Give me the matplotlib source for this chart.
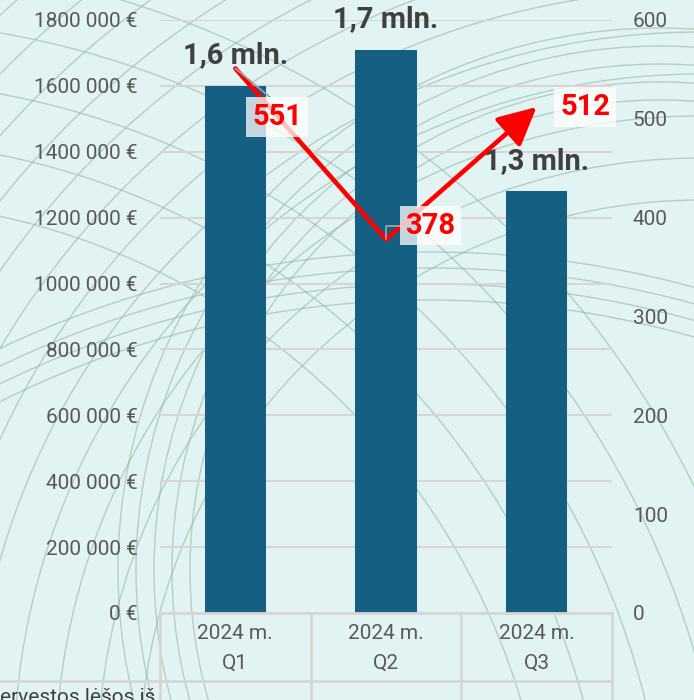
import numpy as np
import matplotlib
matplotlib.use('Agg')
import matplotlib.pyplot as plt
import matplotlib.transforms as mtransforms
from matplotlib import font_manager
from matplotlib.patches import Circle

####################################
#               Data               #
####################################

quarters = ['2024 m.\nQ1', '2024 m.\nQ2', '2024 m.\nQ3']
amounts = [1600000, 1710000, 1280000]
amount_labels = ['1,6 mln.', '1,7 mln.', '1,3 mln.']
counts = [551, 378, 512]
row_label = 'ervestos lėšos iš'

left_ticks = np.arange(0, 1800001, 200000)
right_ticks = np.arange(0, 601, 100)

####################################
#              Styling             #
####################################

W, H = 694, 700
bg_color = '#e1f4f3'
bar_color = '#155f82'
tick_color = '#595959'
grid_color = '#dcd4d4'
table_color = '#d6d6d6'

installed = {f.name for f in font_manager.fontManager.ttflist}
font = 'Roboto' if 'Roboto' in installed else 'DejaVu Sans'


def euro(v):
    if v == 0:
        return '0 €'
    return '{} 000 €'.format(v // 1000)


fig = plt.figure(figsize=(W / 100, H / 100), dpi=100, facecolor=bg_color)

# decorative arcs in the background
bg = fig.add_axes([0, 0, 1, 1], zorder=0)
bg.set_xlim(0, W)
bg.set_ylim(H, 0)
bg.axis('off')
arc_sets = [((700, 760), np.arange(560, 1060, 42)),
            ((660, 570), np.arange(470, 560, 18)),
            ((430, 1260), np.arange(960, 1010, 16)),
            ((-150, 900), np.arange(700, 1000, 60))]
for (cx, cy), radii in arc_sets:
    for r in radii:
        bg.add_patch(Circle((cx, cy), r, fill=False, ec='#97b5a6', lw=1, alpha=0.6))

ax = fig.add_axes([160 / W, 87 / H, 452 / W, 593 / H], zorder=1)
ax.patch.set_alpha(0)
x = np.arange(len(quarters))

ax.bar(x, amounts, width=0.405, color=bar_color, zorder=3)
ax.set_xlim(-0.5, 2.5)
ax.set_ylim(0, 1800000)
ax.set_yticks(left_ticks)
ax.set_yticklabels([euro(v) for v in left_ticks])
ax.set_xticks(x)
ax.set_xticklabels(quarters)
for lab in ax.get_xticklabels():
    lab.set_linespacing(1.7)
ax.grid(axis='y', color=grid_color, lw=1.5, zorder=1)
ax.set_axisbelow(True)
for s in ax.spines.values():
    s.set_visible(False)
ax.tick_params(axis='y', length=0, pad=16, labelsize=15, labelcolor=tick_color)
ax.tick_params(axis='x', length=0, pad=8, labelsize=15, labelcolor=tick_color)
for lab in ax.get_xticklabels() + ax.get_yticklabels():
    lab.set_family(font)

for xi, v, lab in zip(x, amounts, amount_labels):
    ax.annotate(lab, (xi, v), xytext=(0, 22), textcoords='offset points',
                ha='center', va='center', fontsize=21, fontweight='bold',
                color='#404040', family=font, zorder=6)

# table lines under the bars
tr = mtransforms.blended_transform_factory(ax.transData, ax.transAxes)
bottom = -87 / 593
for xb in np.arange(-0.5, len(quarters), 1.0):
    ax.plot([xb, xb], [0, bottom], transform=tr, color=table_color, lw=2, clip_on=False)
ax.plot([-0.5, 2.5], [0, 0], transform=tr, color=table_color, lw=2, clip_on=False, zorder=4)
row_y = 1 - 681 / H
fig.add_artist(plt.Line2D([0, 612 / W], [row_y, row_y], color=table_color, lw=2))
fig.text(0.0, -0.004, row_label, fontsize=15, color='#404040', family=font,
         ha='left', va='baseline')

# right axis with the counts
ax2 = ax.twinx()
ax2.set_ylim(0, 600)
ax2.set_yticks(right_ticks)
for s in ax2.spines.values():
    s.set_visible(False)
ax2.tick_params(axis='y', length=0, pad=15, labelsize=15, labelcolor=tick_color)
for lab in ax2.get_yticklabels():
    lab.set_family(font)

ax2.plot(x[:2], counts[:2], color='red', lw=3.3, solid_capstyle='round', zorder=5)
ax2.annotate('', xy=(x[2], counts[2]), xytext=(x[1], counts[1]),
             arrowprops=dict(arrowstyle='-|>,head_length=0.9,head_width=0.45',
                             color='red', lw=3.3, shrinkA=0, shrinkB=0,
                             mutation_scale=26))

# value labels, two of them with grey leader lines like the original
offsets = [(30, -35), (32, 10), (35, 0)]
leaders = [dict(arrowstyle='-', color='#a0a0a0', lw=1.3, shrinkA=0, shrinkB=0,
                relpos=(0.5, 1.0)),
           dict(arrowstyle='-', color='#a0a0a0', lw=1.3, shrinkA=0, shrinkB=0,
                relpos=(0.0, 0.5), connectionstyle='angle,angleA=0,angleB=90,rad=0'),
           None]
for xi, c, off, lead in zip(x, counts, offsets, leaders):
    ax2.annotate(str(c), (xi, c), xytext=off, textcoords='offset points',
                 ha='center', va='center', fontsize=21, fontweight='bold',
                 color='red', family=font, zorder=7, arrowprops=lead,
                 bbox=dict(boxstyle='square,pad=0.2', fc='white', ec='none', alpha=0.75))

fig.savefig('out.png', dpi=100, facecolor=bg_color)
